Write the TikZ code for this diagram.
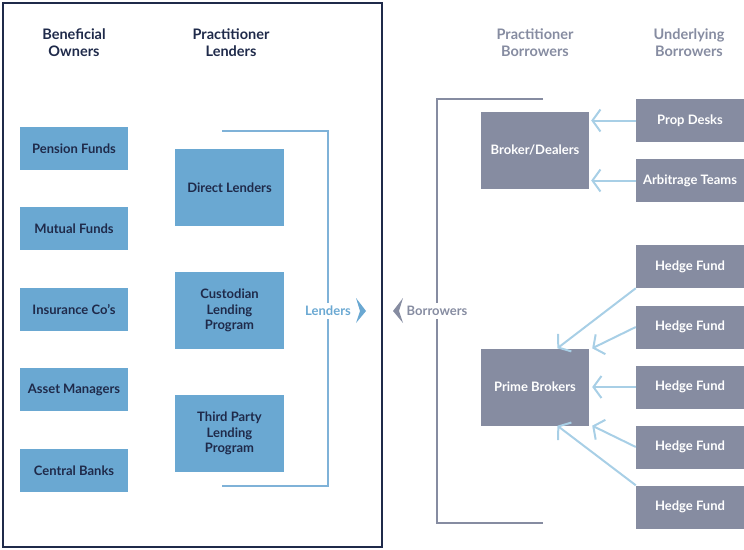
\documentclass[tikz,border=0pt]{standalone}
\usepackage{fontspec}
\setmainfont{Lato}[BoldFont={Lato Bold}]
\usetikzlibrary{arrows.meta}
\definecolor{navy}{HTML}{1F2A4A}
\definecolor{lendblue}{HTML}{6AA8D2}
\definecolor{lendline}{HTML}{7FB2D8}
\definecolor{borrgray}{HTML}{868CA1}
\definecolor{arrblue}{HTML}{A8CFE6}
\tikzset{
  lendbox/.style={draw=none, fill=lendblue, text=navy, font=\bfseries\fontsize{13}{15.5}\selectfont, align=center, inner sep=0pt},
  borrbox/.style={draw=none, fill=borrgray, text=white, font=\bfseries\fontsize{13}{15.5}\selectfont, align=center, inner sep=0pt},
  owner/.style={lendbox, minimum width=108pt, minimum height=43pt},
  practlend/.style={lendbox, minimum width=109pt, minimum height=77pt},
  practborr/.style={borrbox, minimum width=108pt, minimum height=77pt},
  underborr/.style={borrbox, minimum width=108pt, minimum height=43pt},
  heading/.style={font=\bfseries\fontsize{14.5}{17}\selectfont, align=center},
  flow/.style={arrblue, line width=2pt, -{Straight Barb[length=8pt,width=22pt]}},
}
\begin{document}
\begin{tikzpicture}[x=1pt,y=-1pt]
        \useasboundingbox (0,0) rectangle (744,549);
        % lender side frame
        \draw[navy, line width=1.6pt] (3,3) rectangle (382,547);
        \node[heading, text=navy] (hbo) at (74,43) {Beneficial\\Owners};
        \node[heading, text=navy] (hpl) at (231,43) {Practitioner\\Lenders};
        \node[heading, text=borrgray] (hpb) at (535,43) {Practitioner\\Borrowers};
        \node[heading, text=borrgray] (hub) at (689,43) {Underlying\\Borrowers};
        % beneficial owners
        \node[owner] (pf) at (74,148.5) {Pension Funds};
        \node[owner] (mf) at (74,228.5) {Mutual Funds};
        \node[owner] (ic) at (74,309.5) {Insurance Co's};
        \node[owner] (am) at (74,389.5) {Asset Managers};
        \node[owner] (cb) at (74,470.5) {Central Banks};
        % practitioner lenders
        \node[practlend] (dl) at (229.5,187.5) {Direct Lenders};
        \node[practlend] (cl) at (229.5,310.5) {Custodian\\Lending\\Program};
        \node[practlend] (tp) at (229.5,433.5) {Third Party\\Lending\\Program};
        % lenders bracket
        \node[text=lendblue, font=\bfseries\fontsize{13}{15}\selectfont] (lend) at (328,311) {Lenders};
        \draw[lendline, line width=1.5pt] (222,131) -- (328,131) -- (lend.north);
        \draw[lendline, line width=1.5pt] (lend.south) -- (328,486) -- (222,486);
        \fill[lendblue] (356,298) -- (366,311) -- (356,323) -- (360,311) -- cycle;
        % borrowers bracket
        \node[text=borrgray, font=\bfseries\fontsize{13}{15}\selectfont] (borr) at (437,311) {Borrowers};
        \draw[borrgray, line width=1.5pt] (543,99) -- (437,99) -- (borr.north);
        \draw[borrgray, line width=1.5pt] (borr.south) -- (437,523) -- (543,523);
        \fill[borrgray] (403,298) -- (393,311) -- (403,323) -- (399,311) -- cycle;
        % practitioner borrowers
        \node[practborr] (bd) at (535,150) {Broker/Dealers};
        \node[practborr] (pb) at (535,387) {Prime Brokers};
        % underlying borrowers
        \node[underborr] (pd) at (690,120.5) {Prop Desks};
        \node[underborr] (at) at (690,180.5) {Arbitrage Teams};
        \foreach \i/\y in {1/266.5,2/327,3/387,4/447,5/507}
          \node[underborr] (hf\i) at (690,\y) {Hedge Fund};
        % flows
        \draw[flow] (pd.west) -- ([xshift=2pt]bd.east |- pd.west);
        \draw[flow] (at.west) -- ([xshift=2pt]bd.east |- at.west);
        \draw[flow] (hf1.south west) -- (pb.60);
        \draw[flow] (hf2.west) -- ([xshift=3pt]pb.north east);
        \draw[flow] (hf3.west) -- ([xshift=3pt]pb.east);
        \draw[flow] (hf4.west) -- ([xshift=3pt]pb.south east);
        \draw[flow] (hf5.north west) -- (pb.-60);
\end{tikzpicture}
\end{document}
